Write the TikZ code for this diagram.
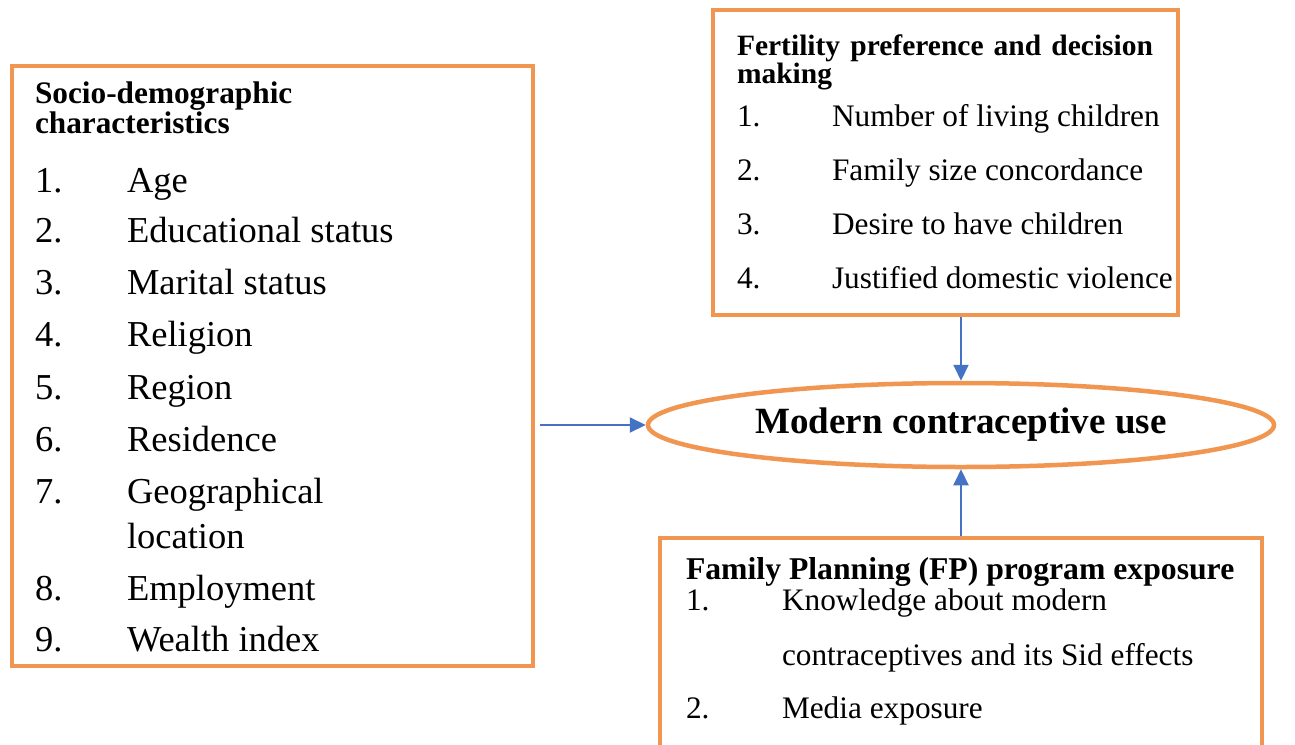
\documentclass[tikz,border=0pt]{standalone}
\usepackage{fontspec}
\setmainfont{Liberation Serif}
\usetikzlibrary{shapes.geometric,arrows.meta}
\definecolor{boxorange}{RGB}{240,150,80}
\definecolor{arrowblue}{RGB}{68,114,196}
\tikzset{
  framebox/.style={draw=boxorange, line width=4.5pt, fill=white, inner sep=0pt},
  txt/.style={anchor=base west, inner sep=0pt, outer sep=0pt},
  ltitle/.style={txt, align=left, font=\fontsize{31.3}{27}\selectfont\bfseries},
  litem/.style={txt, font=\fontsize{36.5}{40}\selectfont},
  rtitle/.style={txt, font=\fontsize{29.5}{32}\selectfont\bfseries},
  btitle/.style={txt, font=\fontsize{31.7}{34}\selectfont\bfseries},
  ritem/.style={txt, font=\fontsize{31.3}{34}\selectfont},
  conn/.style={draw=arrowblue, line width=2pt, -{Triangle[length=16pt,width=15pt]}},
}
\begin{document}
\begin{tikzpicture}[x=1pt,y=-1pt]
\useasboundingbox (0,0) rectangle (1295,744);
\fill[white] (0,0) rectangle (1295,744);
% boxes
\node[framebox, minimum width=521pt, minimum height=600pt] (soc) at (272.5,366) {};
\node[framebox, minimum width=465pt, minimum height=305pt] (fert) at (945.5,162.5) {};
\node[framebox, minimum width=602pt, minimum height=260pt] (fp) at (961,668) {};
\node[ellipse, draw=boxorange, line width=4.5pt, fill=white, minimum width=626pt, minimum height=84pt, inner sep=0pt,
      font=\fontsize{37}{40}\selectfont\bfseries] (mcu) at (961,425) {Modern contraceptive use};
% left box text
\node[ltitle] (s0) at (35,133) {Socio-demographic\\characteristics};
\foreach \n/\t/\y in {1/Age/192, 2/Educational status/242, 3/Marital status/294, 4/Religion/346,
  5/Region/399, 6/Residence/451, 7/Geographical/503, 8/Employment/600, 9/Wealth index/651}{
  \node[litem] (sn\n) at (35,\y) {\n.};
  \node[litem] (st\n) at (127,\y) {\t};
}
\node[litem] (st7b) at (127,548) {location};
% top right text
\node[rtitle] (f0) at (737,55) {\makebox[416pt][s]{Fertility preference and decision}};
\node[rtitle] (f00) at (737,83) {making};
\foreach \n/\t/\y in {1/Number of living children/126, 2/Family size concordance/180,
  3/Desire to have children/234, 4/Justified domestic violence/288}{
  \node[ritem] (fn\n) at (737,\y) {\n.};
  \node[ritem] (ft\n) at (832,\y) {\t};
}
% bottom right text
\node[btitle] (p0) at (686,579) {Family Planning (FP) program exposure};
\node[ritem] (pn1) at (686,610) {1.};
\node[ritem] (pt1) at (782,610) {Knowledge about modern};
\node[ritem] (pt1b) at (782,665) {contraceptives and its Sid effects};
\node[ritem] (pn2) at (686,718) {2.};
\node[ritem] (pt2) at (782,718) {Media exposure};
% connectors
\coordinate (la) at (540,425);
\draw[conn] (la) -- (mcu.west);
\draw[conn] (mcu.north |- fert.south) -- (mcu.north);
\draw[conn] (fp.north) -- (mcu.south);
\end{tikzpicture}
\end{document}
